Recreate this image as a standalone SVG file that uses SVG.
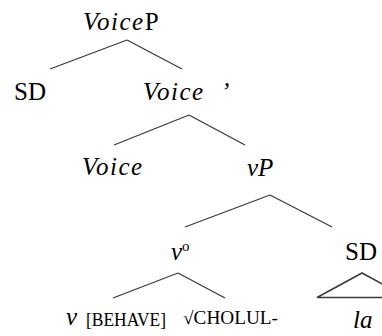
<svg xmlns="http://www.w3.org/2000/svg" width="382" height="336" viewBox="0 0 382 336">
<style>
text{font-family:'Liberation Serif','DejaVu Serif','Noto Serif',serif;fill:#000}
.t{font-size:25px}
.i{font-style:italic}
.s{font-size:18px}
.e{stroke:#3a3a3a;stroke-width:1.3;fill:none}
</style>
<rect width="382" height="336" fill="#fff"/>
<g id="connectors">
<line class="e" x1="127" y1="40" x2="50" y2="69"/>
<line class="e" x1="127" y1="40" x2="182" y2="69"/>
<line class="e" x1="189" y1="115" x2="114" y2="145"/>
<line class="e" x1="189" y1="115" x2="245" y2="145"/>
<line class="e" x1="270" y1="195" x2="185" y2="227"/>
<line class="e" x1="270" y1="195" x2="332" y2="227"/>
<line class="e" x1="178" y1="273" x2="113" y2="298"/>
<line class="e" x1="178" y1="273" x2="225" y2="298"/>
<polygon class="e" points="362,273 317,297.5 407,297.5" style="stroke-width:1.6"/>
</g>
<g id="voiceP"><text class="t" x="83" y="30" letter-spacing="1.5"><tspan class="i">Voice</tspan>P</text></g>
<g id="sd1"><text class="t" x="14" y="100">SD</text></g>
<g id="voiceBar"><text class="t i" x="143" y="100" letter-spacing="1.5">Voice<tspan x="221">’</tspan></text></g>
<g id="voice"><text class="t i" x="82" y="175" letter-spacing="1.5">Voice</text></g>
<g id="vP"><text class="t i" x="247" y="176">vP</text></g>
<g id="v0"><text class="t i" x="171" y="260">v</text><text class="t" x="182" y="251" style="font-size:15px">o</text></g>
<g id="sd2"><text class="t" x="345" y="260">SD</text></g>
<g id="vBehave"><text class="t i" x="66" y="325">v</text><text class="s" x="86" y="326" textLength="80" lengthAdjust="spacingAndGlyphs">[BEHAVE]</text></g>
<g id="root"><text class="s" x="183" y="324" textLength="95" lengthAdjust="spacingAndGlyphs">√CHOLUL-</text></g>
<g id="la"><text class="t i" x="353" y="328">la</text></g>
</svg>
